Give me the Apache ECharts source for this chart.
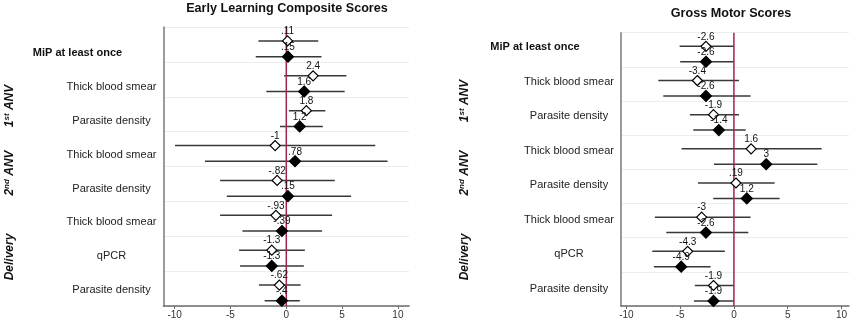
<!DOCTYPE html>
<html>
<head>
<meta charset="utf-8">
<script src="https://cdn.jsdelivr.net/npm/echarts@6/dist/echarts.min.js"></script>
<style>
  html, body { margin: 0; padding: 0; background: #fff; }
  #chart { width: 850px; height: 322px; }
</style>
</head>
<body>
<div id="chart"></div>
<script>
// Row labels (top to bottom) and timepoint groups
const rowLabels = ['MiP at least once', 'Thick blood smear', 'Parasite density', 'Thick blood smear',
  'Parasite density', 'Thick blood smear', 'qPCR', 'Parasite density'];
const groupLabels = ['{b|1}{s|st}{b| ANV}', '{b|2}{s|nd}{b| ANV}', '{b|Delivery}'];
const xTicks = [-10, -5, 0, 5, 10];
const referenceValue = [0];

// Early Learning Composite Scores: hollow = first estimate, filled = second estimate
const elcHollowEst = [0.11, 2.4, 1.8, -1, -0.82, -0.93, -1.3, -0.62];
const elcHollowLo  = [-2.5, -0.2, 0.23, -9.97, -5.93, -5.93, -4.23, -2.45];
const elcHollowHi  = [2.86, 5.38, 3.5, 7.97, 4.34, 4.1, 1.66, 1.28];
const elcFilledEst = [0.15, 1.6, 1.2, 0.78, 0.15, -0.39, -1.3, -0.4];
const elcFilledLo  = [-2.74, -1.79, -0.57, -7.29, -5.33, -3.93, -4.14, -1.94];
const elcFilledHi  = [3.15, 5.23, 3.27, 9.07, 5.8, 3.21, 1.57, 1.21];

// Gross Motor Scores
const gmHollowEst = [-2.6, -3.4, -1.9, 1.6, 0.19, -3, -4.3, -1.9];
const gmHollowLo  = [-5.05, -7.03, -4.09, -4.87, -3.35, -7.35, -7.59, -3.63];
const gmHollowHi  = [-0.02, 0.47, 0.47, 8.16, 3.79, 1.55, -0.84, 0];
const gmFilledEst = [-2.6, -2.6, -1.4, 3, 1.2, -2.6, -4.9, -1.9];
const gmFilledLo  = [-5.0, -6.57, -3.78, -1.86, -1.92, -6.29, -7.44, -3.72];
const gmFilledHi  = [-0.02, 1.55, 1.09, 7.76, 4.25, 1.34, -2.17, 0];

const FONT = '"Liberation Sans", Arial, Helvetica, sans-serif';

// Stata-style number format: drop the leading zero (0.11 -> .11)
const fmt = v => String(v).replace(/^(-?)0\./, '$1.');

const panels = [
  {
    title: 'Early Learning Composite Scores', titleX: 287, titleY: 9,
    left: 163.5, width: 245.6, top: 27, height: 279, min: -11, max: 11,
    labelTop: 36.1, labelHeight: 270.9,
    groupX: 10, groupY: [106, 173, 257],
    hollow: [elcHollowEst, elcHollowLo, elcHollowHi],
    filled: [elcFilledEst, elcFilledLo, elcFilledHi]
  },
  {
    title: 'Gross Motor Scores', titleX: 731, titleY: 14,
    left: 621, width: 228, top: 32.7, height: 273.3, min: -10.5, max: 10.7,
    labelTop: 30, labelHeight: 276.2,
    groupX: 465, groupY: [101, 173, 257],
    hollow: [gmHollowEst, gmHollowLo, gmHollowHi],
    filled: [gmFilledEst, gmFilledLo, gmFilledHi]
  }
];

// Confidence interval, diamond marker and value label for one estimate.
// Layering across series uses z2: bars 0, reference line 1, markers 2, labels 3.
function makeRenderer(filled) {
  return function (params, api) {
    const k = api.value(3);
    const c = api.coord([api.value(0), k]);
    const band = api.size([0, 1])[1];
    const x = c[0];
    const y = c[1] + (filled ? 0.35 : -0.1) * band;
    const x0 = api.coord([api.value(1), k])[0];
    const x1 = api.coord([api.value(2), k])[0];
    const r = filled ? 5.5 : 5;
    return {
      type: 'group',
      children: [
        { type: 'line', z2: 0, shape: { x1: x0, y1: y, x2: x1, y2: y },
          style: { stroke: '#383838', lineWidth: 1.5 } },
        { type: 'polygon', z2: 2, shape: { points: [[x, y - r], [x + r, y], [x, y + r], [x - r, y]] },
          style: { fill: filled ? '#000' : '#fff', stroke: '#000', lineWidth: 1.2 } },
        { type: 'text', z2: 3, x: x, y: y - 9.5,
          style: { text: fmt(api.value(0)), fill: '#111', fontSize: 10, fontFamily: FONT,
                   align: 'center', verticalAlign: 'middle' } }
      ]
    };
  };
}

// Vertical reference line across the whole plot area
function renderRefLine(params, api) {
  const x = api.coord([api.value(0), 0])[0];
  const cs = params.coordSys;
  return {
    type: 'line', z2: 1,
    shape: { x1: x, y1: cs.y, x2: x, y2: cs.y + cs.height },
    style: { stroke: '#a3234f', lineWidth: 1.5 }
  };
}

const grid = [], xAxis = [], yAxis = [], series = [], graphic = [];

panels.forEach((p, i) => {
  const gi = grid.length;
  grid.push({ left: p.left, top: p.top, width: p.width, height: p.height });
  grid.push({ left: p.left, top: p.labelTop, width: p.width, height: p.labelHeight });

  xAxis.push({
    type: 'value', gridIndex: gi, min: p.min, max: p.max,
    axisLine: { show: true, onZero: false, lineStyle: { color: '#6b6b6b', width: 1.5 } },
    axisTick: { show: true, length: 3, customValues: xTicks, lineStyle: { color: '#6b6b6b' } },
    axisLabel: { customValues: xTicks, fontSize: 10, margin: 4, color: '#333', fontFamily: FONT },
    splitLine: { show: false }
  });
  xAxis.push({ type: 'value', gridIndex: gi + 1, min: 0, max: 1, show: false });

  yAxis.push({
    type: 'category', gridIndex: gi, data: rowLabels, inverse: true, boundaryGap: true,
    axisLine: { show: true, onZero: false, lineStyle: { color: '#7a7a7a', width: 1.5 } },
    axisTick: { show: false }, axisLabel: { show: false },
    splitLine: { show: true, lineStyle: { color: '#e9efef', width: 1 } }
  });
  yAxis.push({
    type: 'category', gridIndex: gi + 1, data: rowLabels, inverse: true,
    axisLine: { show: false, onZero: false }, axisTick: { show: false }, splitLine: { show: false },
    axisLabel: {
      margin: 52, align: 'center', fontSize: 11, color: '#222', fontFamily: FONT,
      formatter: (v, idx) => idx === 0 ? '{b|' + v + '}' : v,
      rich: { b: { fontWeight: 'bold', fontSize: 11, fontFamily: FONT, color: '#111', padding: [0, 68, 0, 0] } }
    }
  });

  const build = arr => rowLabels.map((_, k) => [arr[0][k], arr[1][k], arr[2][k], k]);

  series.push({
    type: 'custom', xAxisIndex: gi, yAxisIndex: gi, silent: true, z: 3,
    renderItem: renderRefLine, data: referenceValue.map(v => [v, 0]),
    encode: { x: 0, y: 1 }
  });
  series.push({
    type: 'custom', xAxisIndex: gi, yAxisIndex: gi, silent: true, z: 3,
    renderItem: makeRenderer(false), data: build(p.hollow),
    encode: { x: 0, y: 3 }
  });
  series.push({
    type: 'custom', xAxisIndex: gi, yAxisIndex: gi, silent: true, z: 3,
    renderItem: makeRenderer(true), data: build(p.filled),
    encode: { x: 0, y: 3 }
  });

  graphic.push({
    type: 'text', x: p.titleX, y: p.titleY,
    style: { text: p.title, fontSize: 12.6, fontWeight: 'bold', fontFamily: FONT, fill: '#111',
             align: 'center', verticalAlign: 'middle' }
  });
  groupLabels.forEach((g, j) => {
    graphic.push({
      type: 'text', x: p.groupX, y: p.groupY[j], rotation: Math.PI / 2,
      style: {
        text: g, align: 'center', verticalAlign: 'middle',
        rich: {
          b: { fontSize: 12, fontWeight: 'bold', fontStyle: 'italic', fontFamily: FONT, fill: '#111',
               lineHeight: 14, verticalAlign: 'middle' },
          s: { fontSize: 8, fontWeight: 'bold', fontStyle: 'italic', fontFamily: FONT, fill: '#111',
               lineHeight: 14, verticalAlign: 'top' }
        }
      }
    });
  });
});

const chart = echarts.init(document.getElementById('chart'), null, { renderer: 'canvas' });
chart.setOption({
  animation: false,
  backgroundColor: '#fff',
  grid, xAxis, yAxis, series, graphic
});
</script>
</body>
</html>
